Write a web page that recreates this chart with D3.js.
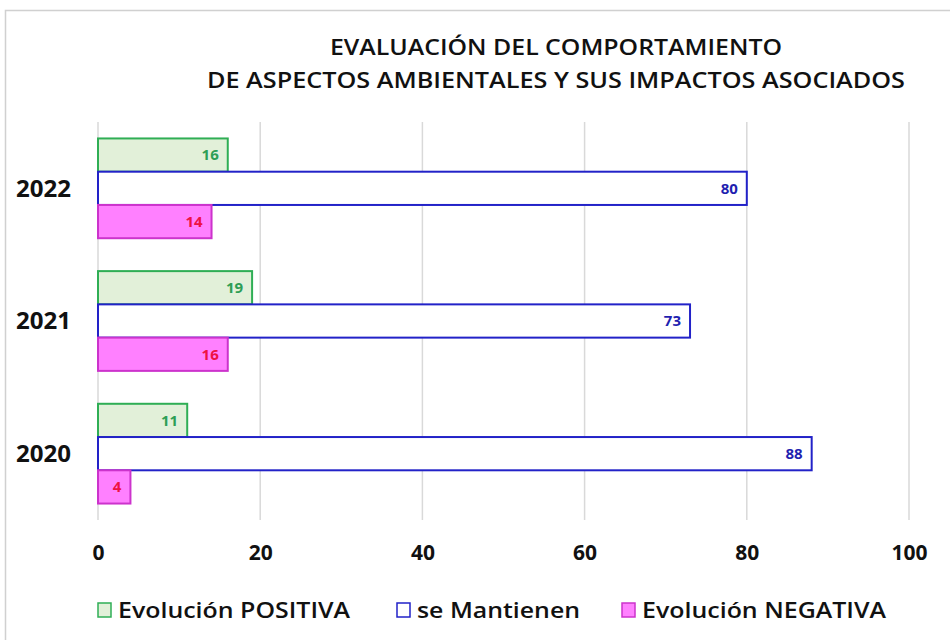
<!DOCTYPE html>
<html>
<head>
<meta charset="utf-8">
<script src="https://cdn.jsdelivr.net/npm/d3@7"></script>
<style>
  body { margin: 0; background: #fff; }
  svg { display: block; font-family: "Open Sans", "Noto Sans", sans-serif; }
</style>
</head>
<body>
<svg id="vis-canvas" width="950" height="640"></svg>
<script>
// data
const years = ["2022", "2021", "2020"];
const seriesNames = ["Evolución POSITIVA", "se Mantienen", "Evolución NEGATIVA"];
const positiva = [16, 19, 11];
const mantienen = [80, 73, 88];
const negativa = [14, 16, 4];
const xTicks = [0, 20, 40, 60, 80, 100];
const titleLines = ["EVALUACIÓN  DEL COMPORTAMIENTO", "DE ASPECTOS  AMBIENTALES  Y SUS IMPACTOS  ASOCIADOS"];

const fills   = ["#e2f0d9", "#ffffff", "#ff80ff"];
const strokes = ["#2fae55", "#2222c8", "#cc33cc"];
const labelColors = ["#2e9e55", "#1f1fb0", "#ee1144"];

let svg = d3.select("svg");
const margin = {top: 122, left: 98, right: 41, bottom: 120};
let W = 950, H = 640;

// chart frame
svg.append("rect")
   .attr("x", 5.5).attr("y", 10.5)
   .attr("width", 960).attr("height", 640)
   .attr("fill", "none").attr("stroke", "#d0d0d0").attr("stroke-width", 1.5);

let scaleX = d3.scaleLinear().domain([0, 100]).range([margin.left, W - margin.right]);
let scaleY = d3.scaleBand().domain(years)
               .range([margin.top, H - margin.bottom])
               .paddingInner(0.248).paddingOuter(0.124);
let scaleS = d3.scaleBand().domain(seriesNames).range([0, scaleY.bandwidth()]);

// gridlines
svg.append("g")
   .selectAll("line")
   .data(xTicks)
   .enter().append("line")
   .attr("x1", d => scaleX(d)).attr("x2", d => scaleX(d))
   .attr("y1", margin.top).attr("y2", H - margin.bottom)
   .attr("stroke", "#d9d9d9").attr("stroke-width", 1.5);

// title
svg.append("g")
   .selectAll("text")
   .data(titleLines)
   .enter().append("text")
   .attr("x", 556).attr("y", (d, i) => 55 + i * 33)
   .attr("text-anchor", "middle")
   .attr("font-size", 22).attr("font-weight", 600)
   .attr("fill", "#111")
   .attr("textLength", (d, i) => i === 0 ? 452 : 698)
   .attr("lengthAdjust", "spacingAndGlyphs")
   .text(d => d);

// bars
let rows = years.map((y, i) => ({year: y, vals: [positiva[i], mantienen[i], negativa[i]]}));
let groups = svg.append("g").selectAll("g")
   .data(rows).enter().append("g")
   .attr("transform", d => "translate(0," + scaleY(d.year) + ")");

groups.selectAll("rect")
   .data(d => d.vals.map((v, k) => ({v: v, k: k})))
   .enter().append("rect")
   .attr("x", scaleX(0))
   .attr("y", d => scaleS(seriesNames[d.k]))
   .attr("width", d => scaleX(d.v) - scaleX(0))
   .attr("height", scaleS.bandwidth())
   .attr("fill", d => fills[d.k])
   .attr("stroke", d => strokes[d.k])
   .attr("stroke-width", 2);

groups.selectAll("text")
   .data(d => d.vals.map((v, k) => ({v: v, k: k})))
   .enter().append("text")
   .attr("x", d => scaleX(d.v) - 9)
   .attr("y", d => scaleS(seriesNames[d.k]) + scaleS.bandwidth() / 2)
   .attr("dy", "0.36em")
   .attr("text-anchor", "end")
   .attr("font-size", 15).attr("font-weight", 700)
   .attr("fill", d => labelColors[d.k])
   .text(d => d.v);

// year labels
svg.append("g")
   .selectAll("text")
   .data(years)
   .enter().append("text")
   .attr("x", 71)
   .attr("y", d => scaleY(d) + scaleY.bandwidth() / 2)
   .attr("dy", "0.36em")
   .attr("text-anchor", "end")
   .attr("font-size", 23).attr("font-weight", 700)
   .attr("fill", "#111")
   .attr("textLength", 55)
   .attr("lengthAdjust", "spacingAndGlyphs")
   .text(d => d);

// x axis
let xaxis = svg.append("g")
   .attr("transform", "translate(0," + (H - margin.bottom + 22) + ")")
   .call(d3.axisBottom(scaleX).tickValues(xTicks).tickSize(0));
xaxis.select(".domain").remove();
xaxis.selectAll("text")
   .attr("font-family", "'Open Sans', sans-serif")
   .attr("font-size", 21).attr("font-weight", 700)
   .attr("fill", "#111");

// legend
const legX = [98, 397, 622];
const legW = [232, 163, 244];
let leg = svg.append("g").selectAll("g")
   .data(seriesNames).enter().append("g")
   .attr("transform", (d, i) => "translate(" + legX[i] + ",610)");
leg.append("rect")
   .attr("x", 0).attr("y", -7).attr("width", 13).attr("height", 14)
   .attr("fill", (d, i) => fills[i]).attr("stroke", (d, i) => strokes[i]).attr("stroke-width", 1.5);
leg.append("text")
   .attr("x", 20).attr("dy", "0.36em")
   .attr("font-size", 22).attr("font-weight", 600)
   .attr("fill", "#111")
   .attr("textLength", (d, i) => legW[i])
   .attr("lengthAdjust", "spacingAndGlyphs")
   .text(d => d);
</script>
</body>
</html>
